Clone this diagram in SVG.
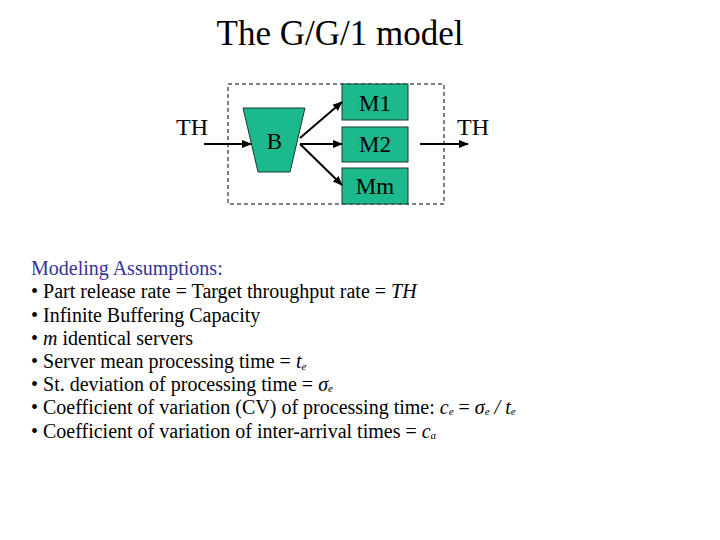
<svg xmlns="http://www.w3.org/2000/svg" width="720" height="540" viewBox="0 0 720 540">
<style>
text{font-family:"Liberation Serif","Times New Roman",serif;fill:#000}
.title{font-size:35px}
.lbl{font-size:23px}
.body{font-size:20px}
.node{fill:#1CB98C;stroke:#1a3a30;stroke-width:1}
.conn{stroke:#000;stroke-width:2;fill:none}
.blue{fill:#333399}
.it{font-style:italic}
.sub{font-size:11px}
</style>
<defs>
<marker id="ah" viewBox="0 0 10 10" refX="9" refY="5" markerWidth="5" markerHeight="5" orient="auto" markerUnits="strokeWidth">
<path d="M0,1 L10,5 L0,9 Z" fill="#000"/>
</marker>
</defs>
<rect width="720" height="540" fill="#fff"/>
<text class="title" x="340" y="45" text-anchor="middle">The G/G/1 model</text>
<g id="boundary">
<rect x="228" y="84" width="216" height="120" fill="none" stroke="#000" stroke-width="1" stroke-dasharray="4 3"/>
</g>
<g id="TH_in"><text class="lbl" x="192" y="135" text-anchor="middle" style="font-size:24px">TH</text></g>
<g id="TH_out"><text class="lbl" x="473" y="135" text-anchor="middle" style="font-size:24px">TH</text></g>
<g id="B">
<polygon class="node" points="243,108 305,108 290,172 258,172"/>
<text class="lbl" x="274.5" y="149" text-anchor="middle">B</text>
</g>
<g id="M1">
<rect class="node" x="342" y="84" width="66" height="36"/>
<text class="lbl" x="375" y="111" text-anchor="middle">M1</text>
</g>
<g id="M2">
<rect class="node" x="342" y="127" width="66" height="35"/>
<text class="lbl" x="375" y="152" text-anchor="middle">M2</text>
</g>
<g id="Mm">
<rect class="node" x="342" y="168" width="66" height="36"/>
<text class="lbl" x="375" y="194" text-anchor="middle">Mm</text>
</g>
<g id="connectors">
<line class="conn" x1="204" y1="144" x2="251" y2="144" marker-end="url(#ah)"/>
<line class="conn" x1="300" y1="138" x2="342" y2="102" marker-end="url(#ah)"/>
<line class="conn" x1="300" y1="144" x2="342" y2="144" marker-end="url(#ah)"/>
<line class="conn" x1="300" y1="144" x2="342" y2="185" marker-end="url(#ah)"/>
<line class="conn" x1="420" y1="144" x2="468" y2="144" marker-end="url(#ah)"/>
</g>
<g id="assumptions">
<text class="body blue" x="31" y="275">Modeling Assumptions:</text>
<text class="body" x="31" y="298">• Part release rate = Target throughput rate = <tspan class="it">TH</tspan></text>
<text class="body" x="31" y="321.5">• Infinite Buffering Capacity</text>
<text class="body" x="31" y="345">• <tspan class="it">m</tspan> identical servers</text>
<text class="body" x="31" y="368">• Server mean processing time = <tspan class="it">t</tspan><tspan class="it sub" dy="2">e</tspan></text>
<text class="body" x="31" y="391">• St. deviation of processing time = <tspan class="it">σ</tspan><tspan class="it sub" dy="1">e</tspan></text>
<text class="body" x="31" y="414">• Coefficient of variation (CV) of processing time: <tspan class="it">c</tspan><tspan class="it sub" dy="1">e</tspan><tspan dy="-1"> = </tspan><tspan class="it">σ</tspan><tspan class="it sub" dy="1">e</tspan><tspan dy="-1" class="it"> / t</tspan><tspan class="it sub" dy="1">e</tspan></text>
<text class="body" x="31" y="437.5">• Coefficient of variation of inter-arrival times = <tspan class="it">c</tspan><tspan class="it sub" dy="1">a</tspan></text>
</g>
</svg>
